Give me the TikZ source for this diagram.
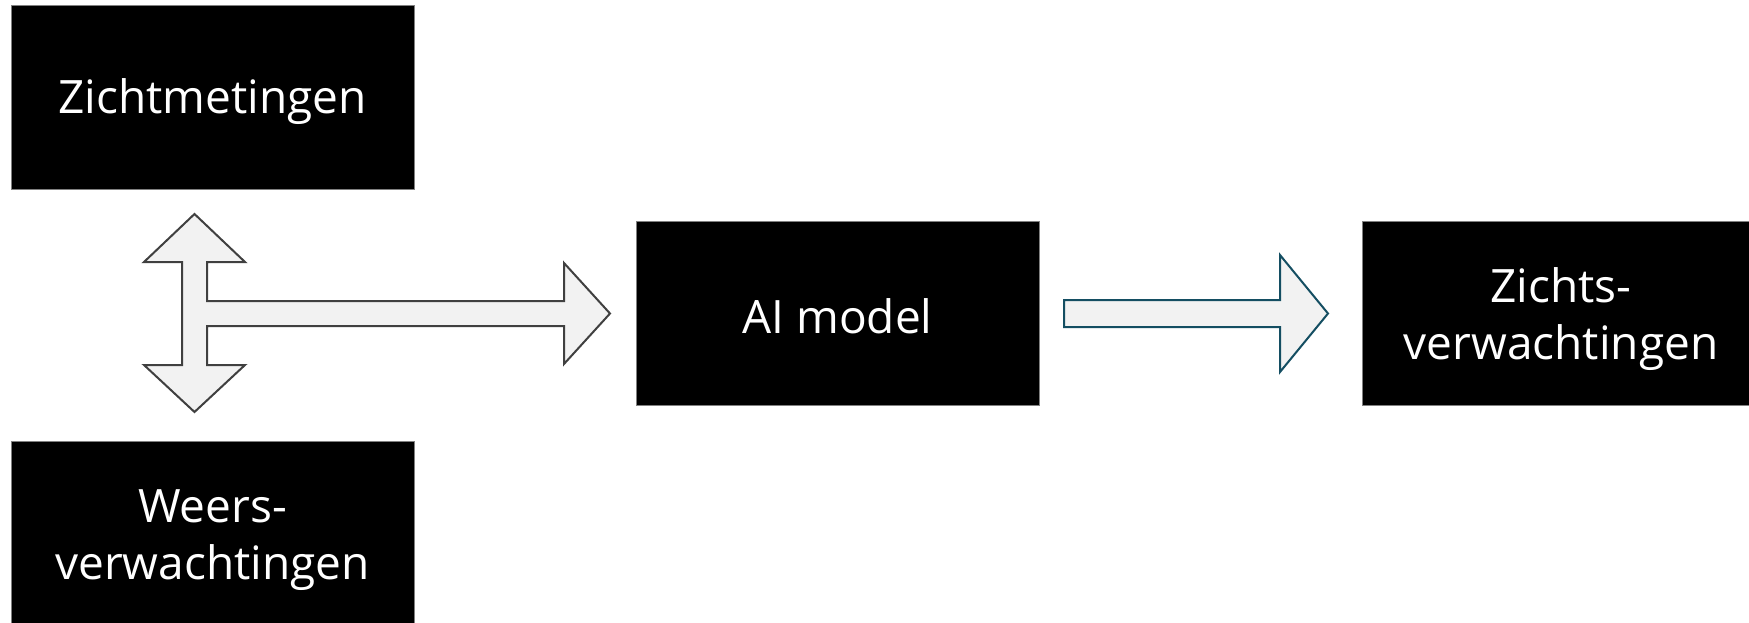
\documentclass[tikz,border=0pt]{standalone}
\usepackage{fontspec}
\setmainfont{Open Sans}
\definecolor{boxedge}{RGB}{128,128,128}
\definecolor{arrowfill}{RGB}{242,242,242}
\definecolor{arrowgray}{RGB}{64,64,64}
\definecolor{arrowteal}{RGB}{20,78,98}
\begin{document}
\begin{tikzpicture}[x=1pt,y=-1pt,
  blackbox/.style={draw=boxedge, line width=1pt, fill=black, text=white, align=center,
    inner sep=0pt, minimum width=403pt, minimum height=184pt},
  boxtext/.style={text=white, align=center, inner sep=0pt, font=\fontsize{46}{57}\selectfont},
  blockarrow/.style={fill=arrowfill, line width=2pt, line join=miter}]
\useasboundingbox (0,0) rectangle (1749,623);
\fill[white] (0,0) rectangle (1749,623);
% boxes
\node[blackbox] (zm) at (212.5,98) {};
\node[boxtext] (zmt) at (212.5,102) {Zichtmetingen};
\node[blackbox] (wv) at (212.5,533) {};
\node[boxtext] (wvt) at (212.5,540) {Weers-\\verwachtingen};
\node[blackbox] (ai) at (837.5,313) {};
\node[boxtext] (ait) at (837.5,316) {AI model};
\node[blackbox, anchor=west] (zv) at (1362,313) {};
\node[boxtext] (zvt) at (1561,319) {Zichts-\\verwachtingen};
% tri-directional block arrow between the input boxes and the model
\draw[blockarrow, draw=arrowgray]
  (194.5,214) -- (245,262) -- (207,262) -- (207,301) -- (564,301) -- (564,263)
  -- (610,313.5) -- (564,364) -- (564,326) -- (207,326) -- (207,365) -- (245,365)
  -- (194.5,412) -- (144,365) -- (182,365) -- (182,262) -- (144,262) -- cycle;
% block arrow from model to output
\draw[blockarrow, draw=arrowteal]
  (1064,300) -- (1280,300) -- (1280,255) -- (1328,313.5) -- (1280,372)
  -- (1280,327) -- (1064,327) -- cycle;
\end{tikzpicture}
\end{document}
